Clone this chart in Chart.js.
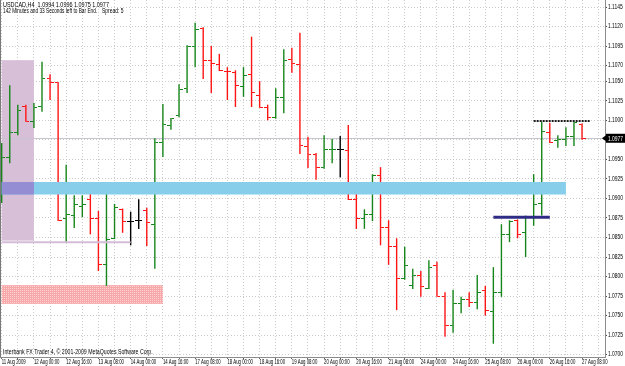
<!DOCTYPE html>
<html>
<head>
<meta charset="utf-8">
<script src="https://cdn.jsdelivr.net/npm/chart.js@4.4.0/dist/chart.umd.min.js"></script>
<style>
    html, body { margin: 0; padding: 0; background: #fff; }
</style>
</head>
<body>
<canvas id="chart" width="625" height="366"></canvas>
<script>
// USDCAD H4, one entry per bar: 11 Aug 2009 08:00 .. 27 Aug 2009 08:00
const opens = [
    1.0904, 1.0953, 1.0985, 1.1018, 1.0998, 1.1018, 1.1054, 1.1048, 1.0874, 1.0878,
    1.0890, 1.0898, 1.0874, 1.0815, 1.0849, 1.0886, 1.0871, 1.0872, 1.0885, 1.0867,
    1.0971, 1.0993, 1.1006, 1.1041, 1.1095, 1.1117, 1.1076, 1.1072, 1.1063, 1.1061,
    1.1043, 1.1059, 1.1032, 1.1016, 1.1003, 1.1029, 1.1078, 1.1072, 1.0966, 1.0956,
    1.0940, 1.0962, 1.0963, 1.0961, 1.0899, 1.0874, 1.0880, 1.0929, 1.0863, 1.0838,
    1.0797, 1.0789, 1.0801, 1.0785, 1.0814, 1.0775, 1.0737, 1.0766, 1.0771, 1.0767,
    1.0782, 1.0755, 1.0779, 1.0854, 1.0872, 1.0856, 1.0876, 1.0893, 1.0985, 1.0974,
    1.0976, 1.0979, 1.0994
];
const highs = [
    1.0971, 1.1045, 1.1020, 1.1020, 1.1022, 1.1075, 1.1059, 1.1049, 1.0943, 1.0904,
    1.0904, 1.0907, 1.0884, 1.0906, 1.0893, 1.0887, 1.0883, 1.0899, 1.0888, 1.0977,
    1.1021, 1.1003, 1.1046, 1.1096, 1.1125, 1.1119, 1.1095, 1.1085, 1.1068, 1.1064,
    1.1068, 1.1107, 1.1050, 1.1020, 1.1041, 1.1091, 1.1093, 1.1112, 1.0979, 1.0958,
    1.0981, 1.0976, 1.0980, 1.0994, 1.0912, 1.0886, 1.0931, 1.0940, 1.0872, 1.0849,
    1.0838, 1.0810, 1.0807, 1.0821, 1.0819, 1.0780, 1.0783, 1.0774, 1.0780, 1.0802,
    1.0788, 1.0812, 1.0867, 1.0872, 1.0873, 1.0878, 1.0931, 1.0998, 1.0997, 1.0981,
    1.0991, 1.0998, 1.0996
];
const lows = [
    1.0894, 1.0945, 1.0981, 1.0998, 1.0990, 1.1011, 1.1026, 1.0871, 1.0844, 1.0862,
    1.0876, 1.0854, 1.0807, 1.0788, 1.0848, 1.0856, 1.0840, 1.0861, 1.0839, 1.0810,
    1.0953, 1.0988, 1.1004, 1.1035, 1.1068, 1.1053, 1.1035, 1.1063, 1.1026, 1.1017,
    1.1030, 1.1017, 1.1016, 1.1000, 1.1002, 1.1009, 1.1061, 1.0957, 1.0939, 1.0924,
    1.0938, 1.0945, 1.0927, 1.0898, 1.0861, 1.0861, 1.0871, 1.0840, 1.0815, 1.0757,
    1.0796, 1.0784, 1.0774, 1.0784, 1.0774, 1.0723, 1.0728, 1.0753, 1.0761, 1.0758,
    1.0750, 1.0714, 1.0774, 1.0844, 1.0849, 1.0825, 1.0865, 1.0878, 1.0971, 1.0965,
    1.0967, 1.0967, 1.0975
];
const closes = [
    1.0953, 1.0985, 1.1012, 1.0999, 1.1017, 1.1053, 1.1048, 1.0872, 1.0879, 1.0892,
    1.0892, 1.0874, 1.0815, 1.0848, 1.0888, 1.0870, 1.0871, 1.0872, 1.0869, 1.0971,
    1.0995, 1.1002, 1.1039, 1.1094, 1.1116, 1.1077, 1.1073, 1.1064, 1.1062, 1.1045,
    1.1057, 1.1035, 1.1017, 1.1003, 1.1029, 1.1077, 1.1073, 1.0968, 1.0956, 1.0939,
    1.0963, 1.0963, 1.0963, 1.0899, 1.0874, 1.0879, 1.0929, 1.0863, 1.0838, 1.0798,
    1.0814, 1.0801, 1.0787, 1.0812, 1.0775, 1.0737, 1.0766, 1.0771, 1.0767, 1.0780,
    1.0756, 1.0779, 1.0854, 1.0871, 1.0854, 1.0876, 1.0892, 1.0986, 1.0972, 1.0975,
    1.0979, 1.0997, 1.0977
];

// time labels, one every 4 bars
const xTickLabels = [
    '11 Aug 2009', '12 Aug 00:00', '12 Aug 16:00', '13 Aug 08:00', '14 Aug 00:00',
    '14 Aug 16:00', '17 Aug 08:00', '18 Aug 00:00', '18 Aug 16:00', '19 Aug 08:00',
    '20 Aug 00:00', '20 Aug 16:00', '21 Aug 08:00', '24 Aug 00:00', '24 Aug 16:00',
    '25 Aug 08:00', '26 Aug 00:00', '26 Aug 16:00', '27 Aug 08:00'
];
const yTickValues = [
    1.1145, 1.1120, 1.1095, 1.1070, 1.1050, 1.1025, 1.1000, 1.0975, 1.0950, 1.0925,
    1.0900, 1.0875, 1.0850, 1.0825, 1.0800, 1.0775, 1.0750, 1.0725, 1.0700
];

// drawn objects (bar index range, price range)
const boxBars = [0, 4], boxPrices = [1.1077, 1.0846];
const pinkBars = [0, 20], pinkPrices = [1.0789, 1.0765];
const bandBars = [0, 70], bandPrices = [1.0921, 1.0905];
const lineBars = [[0, 16], [61, 68], [66, 73]];
const linePrices = [1.0844, 1.0876, 1.0999];
const bidPrice = 1.0977;

const FONT = "'Liberation Sans', Arial, sans-serif";
const UP = '#16861a';
const DOWN = '#ff1414';
const DOJI = '#000000';

const barColor = (i) => {
    if (closes[i] > opens[i]) return UP;
    if (closes[i] < opens[i]) return DOWN;
    return DOJI;
};

// open tick on the left, close tick on the right
const tickCache = {};
const tickImage = (side, color) => {
    const key = side + color;
    if (!tickCache[key]) {
        const c = document.createElement('canvas');
        c.width = 7;
        c.height = 1;
        const g = c.getContext('2d');
        g.fillStyle = color;
        g.fillRect(side === 'open' ? 0 : 4, 0, 3, 1);
        tickCache[key] = c;
    }
    return tickCache[key];
};

const zoneRect = (x, y, bars, prices) => {
    const x1 = x.getPixelForValue(bars[0]);
    const x2 = x.getPixelForValue(bars[1]);
    const y1 = y.getPixelForValue(prices[0]);
    const y2 = y.getPixelForValue(prices[1]);
    return [x1, y1, x2 - x1, y2 - y1];
};

const pinkPattern = (ctx) => {
    const c = document.createElement('canvas');
    c.width = 2;
    c.height = 2;
    const g = c.getContext('2d');
    g.fillStyle = '#f8a8a8';
    g.fillRect(0, 0, 2, 2);
    g.fillStyle = '#fcd2d2';
    g.fillRect(0, 0, 1, 1);
    return ctx.createPattern(c, 'repeat');
};

// MT4 text is small and narrow: squeeze it horizontally
const narrowText = (ctx, text, px, py, size, sx) => {
    ctx.save();
    ctx.translate(px, py);
    ctx.scale(sx, 1);
    ctx.font = `${size}px ${FONT}`;
    ctx.fillText(text, 0, 0);
    ctx.restore();
};

const overlay = {
    id: 'overlay',
    beforeDatasetsDraw(chart) {
        const { ctx, chartArea: a, scales: { x, y } } = chart;
        ctx.save();
        ctx.beginPath();
        ctx.rect(a.left, a.top, a.width, a.height);
        ctx.clip();
        ctx.fillStyle = '#d8bfd8';
        ctx.fillRect(...zoneRect(x, y, boxBars, boxPrices));
        ctx.fillStyle = pinkPattern(ctx);
        ctx.fillRect(...zoneRect(x, y, pinkBars, pinkPrices));
        // bid line
        const by = Math.round(y.getPixelForValue(bidPrice)) + 0.5;
        ctx.strokeStyle = '#cac4d0';
        ctx.lineWidth = 1;
        ctx.beginPath();
        ctx.moveTo(a.left, by);
        ctx.lineTo(a.right, by);
        ctx.stroke();
        ctx.restore();
    },
    afterDatasetsDraw(chart) {
        const { ctx, chartArea: a, scales: { x, y } } = chart;
        ctx.save();
        ctx.beginPath();
        ctx.rect(a.left, a.top, a.width, a.height);
        ctx.clip();
        ctx.fillStyle = '#87ceeb';
        ctx.fillRect(...zoneRect(x, y, bandBars, bandPrices));
        // where the band crosses the purple box
        const ob = [Math.max(boxBars[0], bandBars[0]), Math.min(boxBars[1], bandBars[1])];
        const op = [Math.min(boxPrices[0], bandPrices[0]), Math.max(boxPrices[1], bandPrices[1])];
        ctx.fillStyle = '#958dd4';
        ctx.fillRect(...zoneRect(x, y, ob, op));

        const styles = [
            { color: '#d4bcd8', width: 2, dash: [] },
            { color: '#2e2c84', width: 3, dash: [] },
            { color: '#1a1a1a', width: 2, dash: [2, 1] }
        ];
        lineBars.forEach((b, i) => {
            const s = styles[i];
            const ly = y.getPixelForValue(linePrices[i]);
            ctx.strokeStyle = s.color;
            ctx.lineWidth = s.width;
            ctx.setLineDash(s.dash);
            ctx.beginPath();
            ctx.moveTo(x.getPixelForValue(b[0]), ly);
            ctx.lineTo(x.getPixelForValue(b[1]), ly);
            ctx.stroke();
        });
        ctx.setLineDash([]);
        // left frame
        ctx.strokeStyle = '#7a7a7a';
        ctx.lineWidth = 1;
        ctx.beginPath();
        ctx.moveTo(a.left + 0.5, a.top);
        ctx.lineTo(a.left + 0.5, a.bottom);
        ctx.stroke();
        ctx.restore();

        const last = opens.length - 1;
        ctx.save();
        ctx.textBaseline = 'middle';
        ctx.textAlign = 'left';
        ctx.fillStyle = '#000';
        narrowText(ctx, `USDCAD,H4  ${opens[last].toFixed(4)} ${highs[last].toFixed(4)} ${lows[last].toFixed(4)} ${closes[last].toFixed(4)}`, 3, 5, 6.5, 0.84);
        narrowText(ctx, '142 Minutes and 33 Seconds left to Bar End.', 3, 11.5, 6.5, 0.73);
        narrowText(ctx, 'Spread: 5', 102, 11.5, 6.5, 0.76);
        narrowText(ctx, 'Interbank FX Trader 4, \u00a9 2001-2009 MetaQuotes Software Corp.', 3, 352, 6.5, 0.8);

        // axis labels at the scale's own ticks
        x.ticks.forEach(t => {
            if (t.value % 4 !== 0) return;
            narrowText(ctx, xTickLabels[t.value / 4], x.getPixelForValue(t.value), a.bottom + 5.5, 6.5, 0.66);
        });
        y.ticks.forEach(t => {
            narrowText(ctx, t.value.toFixed(4), a.right + 3, y.getPixelForValue(t.value), 6.5, 0.76);
        });

        // current price marker on the axis
        const py = y.getPixelForValue(bidPrice);
        ctx.fillStyle = '#000';
        ctx.fillRect(a.right + 1, py - 4.5, chart.width - a.right - 1, 9);
        ctx.beginPath();
        ctx.moveTo(a.right - 3, py);
        ctx.lineTo(a.right + 1, py - 3);
        ctx.lineTo(a.right + 1, py + 3);
        ctx.closePath();
        ctx.fill();
        ctx.fillStyle = '#fff';
        narrowText(ctx, bidPrice.toFixed(4), a.right + 3, py + 0.5, 6.5, 0.76);
        ctx.restore();
    }
};

const idx = opens.map((_, i) => i);

new Chart(document.getElementById('chart'), {
    type: 'bar',
    data: {
        datasets: [
            {
                type: 'scatter',
                data: idx.map(i => ({ x: i, y: closes[i] })),
                pointStyle: (c) => tickImage('close', barColor(c.dataIndex)),
                radius: 3
            },
            {
                type: 'scatter',
                data: idx.map(i => ({ x: i, y: opens[i] })),
                pointStyle: (c) => tickImage('open', barColor(c.dataIndex)),
                radius: 3
            },
            {
                type: 'bar',
                data: idx.map(i => ({ x: i, y: [lows[i], highs[i]] })),
                backgroundColor: (c) => barColor(c.dataIndex),
                barThickness: 1.4,
                borderWidth: 0,
                inflateAmount: 0,
                grouped: false
            }
        ]
    },
    options: {
        responsive: false,
        animation: false,
        events: [],
        layout: { padding: 0, autoPadding: false },
        plugins: {
            legend: { display: false },
            tooltip: { enabled: false }
        },
        scales: {
            x: {
                type: 'linear',
                min: -0.21,
                max: 74.85,
                offset: false,
                afterBuildTicks: (s) => {
                    const t = [];
                    for (let k = 0; k <= 74; k += 2) t.push({ value: k });
                    s.ticks = t;
                },
                afterFit: (s) => {
                    s.height = 9;
                    s.paddingLeft = 0;
                    s.paddingRight = 0;
                },
                ticks: { display: false },
                grid: { offset: false, color: '#cccccc', tickLength: 2, tickColor: '#666' },
                border: { color: '#8c8c8c', dash: [1, 2] }
            },
            y: {
                type: 'linear',
                position: 'right',
                min: 1.0697,
                max: 1.1154,
                beginAtZero: false,
                afterBuildTicks: (s) => {
                    s.ticks = yTickValues.map(v => ({ value: v }));
                },
                afterFit: (s) => {
                    s.width = 20;
                    s.paddingTop = 0;
                    s.paddingBottom = 0;
                },
                ticks: { display: false },
                grid: { color: '#cccccc', tickLength: 2, tickColor: '#444' },
                border: { color: '#8c8c8c', dash: [1, 2] }
            }
        }
    },
    plugins: [overlay]
});
</script>
</body>
</html>
